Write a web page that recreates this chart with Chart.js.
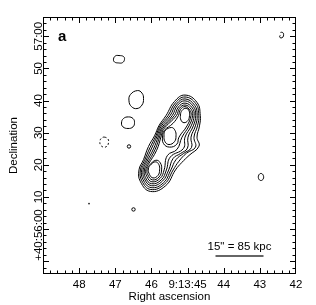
<!DOCTYPE html>
<html>
<head>
<meta charset="utf-8">
<script src="https://cdn.jsdelivr.net/npm/chart.js@4.4.1/dist/chart.umd.min.js"></script>
<style>
  html, body { margin: 0; padding: 0; background: #fff; }
  #wrap { width: 316px; height: 305px; }
</style>
</head>
<body>
<div id="wrap"><canvas id="radioMap" width="316" height="305"></canvas></div>
<script>
// axis ticks (RA in seconds of 9:13, Dec in arcsec above +40:56:00)
const raTicks = [48, 47, 46, 45, 44, 43, 42];
const raTickLabels = ['48', '47', '46', '9:13:45', '44', '43', '42'];
const decTicks = [0, 10, 20, 30, 40, 50, 60];
const decTickLabels = ['+40:56:00', '10', '20', '30', '40', '50', '57:00'];

// main source, nested contours from outermost inwards: [RA s, Dec "]
const mainLevel1 = [[45.071,41.7],[44.739,39.4],[44.648,35.3],[44.670,32.1],[44.739,28.6],[44.684,25.8],[44.960,22.9],[45.160,20.7],[45.334,18.4],[45.605,13.5],[46.026,11.7],[46.302,14.7],[46.344,18.4],[46.219,21.6],[46.081,25.7],[45.915,29.0],[45.785,32.3],[45.597,35.3],[45.362,39.7]];
const mainLevel2 = [[45.071,41.1],[44.772,39.0],[44.689,35.3],[44.725,32.1],[44.822,28.6],[44.781,25.5],[45.030,23.6],[45.240,21.1],[45.398,18.4],[45.636,14.0],[46.017,12.3],[46.266,15.0],[46.305,18.4],[46.192,21.3],[46.037,25.4],[45.876,29.0],[45.763,32.1],[45.539,35.3],[45.334,39.3]];
const mainLevel3 = [[45.071,40.5],[44.803,38.5],[44.734,35.3],[44.783,32.1],[44.905,28.6],[44.891,25.4],[45.113,23.5],[45.320,21.6],[45.461,18.4],[45.666,14.4],[46.009,12.9],[46.233,15.4],[46.269,18.4],[46.164,21.0],[45.992,25.2],[45.840,29.0],[45.741,31.8],[45.483,35.3],[45.306,38.9]];
const mainLevel4 = [[45.071,39.9],[44.836,38.1],[44.775,35.3],[44.841,32.1],[44.988,28.6],[45.002,25.2],[45.196,23.5],[45.398,22.0],[45.522,18.4],[45.696,14.9],[46.001,13.5],[46.197,15.7],[46.230,18.4],[46.139,20.7],[45.945,24.9],[45.802,29.0],[45.716,31.5],[45.425,35.3],[45.279,38.5]];
const mainLevel5 = [[45.071,39.2],[44.869,37.7],[44.819,35.3],[44.900,32.1],[45.071,28.6],[45.113,25.1],[45.478,22.4],[45.586,18.4],[45.727,15.3],[45.995,14.1],[46.164,16.0],[46.194,18.4],[46.111,20.4],[45.901,24.7],[45.766,29.0],[45.691,31.3],[45.367,35.3],[45.251,38.0]];
const mainLevel6 = [[45.071,38.6],[44.902,37.3],[44.861,35.3],[44.960,32.1],[45.154,28.6],[45.292,24.8],[45.558,22.9],[45.649,18.4],[45.757,15.8],[45.987,14.7],[46.128,16.4],[46.156,18.4],[46.087,20.1],[45.857,24.5],[45.727,29.0],[45.669,31.0],[45.309,35.3],[45.223,37.6]];
const northPair = [[45.071,38.1],[44.933,36.9],[44.905,35.3],[45.016,32.1],[45.237,28.6],[45.298,26.4],[45.500,25.5],[45.666,26.6],[45.691,29.0],[45.644,30.7],[45.403,32.9],[45.254,35.3],[45.196,37.2]];
const southLoop = [[45.879,21.4],[45.755,20.6],[45.719,18.4],[45.788,16.2],[45.973,15.3],[46.095,16.8],[46.120,18.5],[46.059,19.8]];
const northCore = [[45.043,37.6],[44.960,36.8],[44.947,35.3],[44.988,33.8],[45.099,33.1],[45.182,33.9],[45.196,35.5],[45.154,36.9]];
const middleCore = [[45.445,31.6],[45.348,30.7],[45.320,29.0],[45.362,27.2],[45.514,26.3],[45.625,27.2],[45.652,29.0],[45.622,30.6]];
const southCore = [[45.887,20.9],[45.796,20.1],[45.774,18.4],[45.818,16.7],[45.957,15.9],[46.053,17.0],[46.084,18.7],[46.012,20.1]];

// weaker isolated features
const blobNorth = [[46.897,54.0],[46.773,53.7],[46.745,52.8],[46.800,51.8],[46.911,51.7],[47.022,52.0],[47.049,52.9],[46.994,53.9]];
const blobEast = [[46.385,43.1],[46.261,42.3],[46.219,40.6],[46.261,38.6],[46.399,37.5],[46.551,38.1],[46.621,39.9],[46.579,41.9]];
const blobMid = [[46.634,34.9],[46.510,34.4],[46.468,33.2],[46.510,31.8],[46.648,31.3],[46.787,31.8],[46.828,33.0],[46.773,34.4]];
const negativeLoop = [[47.298,28.6],[47.202,28.0],[47.188,26.9],[47.229,25.8],[47.326,25.5],[47.409,26.2],[47.423,27.4],[47.381,28.3]];
const westLoop = [[42.968,17.3],[42.905,16.7],[42.907,15.6],[42.974,15.1],[43.035,15.7],[43.029,16.8]];
const cornerArc = [[42.429,61.2],[42.373,61.2],[42.343,60.6],[42.365,59.7],[42.420,59.5],[42.454,59.8],[42.437,60.3]];
const compactSpots = [[46.621,25.7],[46.496,6.1]];
const pointSpot = [[47.727,7.9]];

// 15 arcsec scale bar
const scaleBarRA = [44.227, 42.899];
const scaleBarDec = -8.4;
const scaleBarLabel = '15" = 85 kpc';

const FONT = '"Liberation Sans", Arial, Helvetica, sans-serif';

// line controller that closes the path smoothly (like radar lines do)
class ContourController extends Chart.LineController {
  static id = 'contour';
  static defaults = { datasetElementType: 'line', dataElementType: 'point', showLine: true, spanGaps: false };
  static overrides = {};
  update(mode) {
    super.update(mode);
    const line = this._cachedMeta.dataset;
    line._loop = true;
    line._fullLoop = true;
    line._pointsUpdated = false;
    delete line._segments;
    delete line._path;
  }
}
Chart.register(ContourController);

const toXY = pts => pts.map(([x, y]) => ({ x, y }));

const contour = (pts, extra) => Object.assign({
  type: 'contour',
  data: toXY(pts),
  borderColor: '#000',
  borderWidth: 1,
  pointRadius: 0,
  tension: 0.45,
  fill: false
}, extra || {});

const axesFrame = {
  id: 'axesFrame',
  afterDraw(chart) {
    const { ctx, chartArea: a, scales: { x, y } } = chart;
    ctx.save();
    ctx.strokeStyle = '#000';
    ctx.lineWidth = 1;
    ctx.strokeRect(a.left + 0.5, a.top + 0.5, a.right - a.left - 1, a.bottom - a.top - 1);

    // inward ticks on all four sides
    ctx.beginPath();
    for (let i = 1; i < 35; i++) {
      const v = 42 + i * 0.2;
      const len = i % 5 === 0 ? 5 : 2.5;
      const px = Math.round(x.getPixelForValue(v)) + 0.5;
      ctx.moveTo(px, a.bottom - 1); ctx.lineTo(px, a.bottom - 1 - len);
      ctx.moveTo(px, a.top + 1); ctx.lineTo(px, a.top + 1 + len);
    }
    for (let d = -12; d < 66; d += 2) {
      const len = d % 10 === 0 ? 5 : 2.5;
      const py = Math.round(y.getPixelForValue(d)) + 0.5;
      ctx.moveTo(a.left + 1, py); ctx.lineTo(a.left + 1 + len, py);
      ctx.moveTo(a.right - 1, py); ctx.lineTo(a.right - 1 - len, py);
    }
    ctx.stroke();

    ctx.fillStyle = '#000';
    ctx.font = '11.5px ' + FONT;
    ctx.textAlign = 'center';
    ctx.textBaseline = 'alphabetic';
    raTicks.forEach((v, i) => {
      ctx.fillText(raTickLabels[i], x.getPixelForValue(v), a.bottom + 13.5);
    });
    ctx.fillText('Right ascension', (a.left + a.right) / 2, a.bottom + 26);

    decTicks.forEach((v, i) => {
      // the long origin label is nudged down so it clears "10"
      const nudge = i === 0 ? 6 : 0;
      ctx.save();
      ctx.translate(a.left - 1.2, y.getPixelForValue(v) + nudge);
      ctx.rotate(-Math.PI / 2);
      ctx.fillText(decTickLabels[i], 0, 0);
      ctx.restore();
    });
    ctx.save();
    ctx.translate(17, (a.top + a.bottom) / 2);
    ctx.rotate(-Math.PI / 2);
    ctx.fillText('Declination', 0, 0);
    ctx.restore();

    // scale bar caption
    const barMid = (x.getPixelForValue(scaleBarRA[0]) + x.getPixelForValue(scaleBarRA[1])) / 2;
    ctx.fillText(scaleBarLabel, barMid, y.getPixelForValue(scaleBarDec) - 6);

    // panel letter
    ctx.font = 'bold 15px ' + FONT;
    ctx.textAlign = 'left';
    ctx.fillText('a', a.left + 15, a.top + 24);
    ctx.restore();
  }
};

new Chart(document.getElementById('radioMap'), {
  type: 'scatter',
  data: {
    datasets: [
      contour(mainLevel1),
      contour(mainLevel2),
      contour(mainLevel3),
      contour(mainLevel4),
      contour(mainLevel5),
      contour(mainLevel6),
      contour(northPair),
      contour(southLoop),
      contour(northCore),
      contour(middleCore),
      contour(southCore),
      contour(blobNorth),
      contour(blobEast),
      contour(blobMid),
      contour(westLoop),
      contour(negativeLoop, { borderDash: [2, 2] }),
      {
        type: 'line',
        data: toXY(cornerArc),
        borderColor: '#000',
        borderWidth: 1,
        pointRadius: 0,
        tension: 0.45
      },
      {
        type: 'scatter',
        data: toXY(compactSpots),
        pointRadius: 1.7,
        pointBorderWidth: 1,
        pointBorderColor: '#000',
        pointBackgroundColor: 'rgba(0,0,0,0)'
      },
      {
        type: 'scatter',
        data: toXY(pointSpot),
        pointRadius: 0.8,
        pointBorderWidth: 0,
        pointBackgroundColor: '#000'
      },
      {
        type: 'line',
        data: scaleBarRA.map(ra => ({ x: ra, y: scaleBarDec })),
        borderColor: '#333',
        borderWidth: 1.5,
        pointRadius: 0,
        tension: 0
      }
    ]
  },
  options: {
    responsive: false,
    devicePixelRatio: 1,
    animation: false,
    events: [],
    layout: { padding: { left: 43, top: 17, right: 20, bottom: 31 } },
    plugins: { legend: { display: false }, tooltip: { enabled: false } },
    scales: {
      x: { type: 'linear', min: 42, max: 49, reverse: true, display: false },
      y: { type: 'linear', min: -14, max: 66, display: false }
    }
  },
  plugins: [axesFrame]
});
</script>
</body>
</html>
